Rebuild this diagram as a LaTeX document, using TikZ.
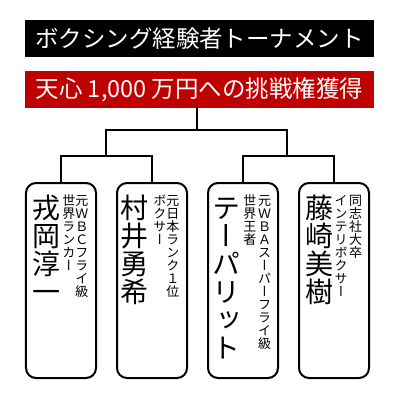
\documentclass[tikz,border=0pt]{standalone}
\usepackage{fontspec}
\setmainfont{Noto Sans CJK JP}
\newfontfamily\jpfont{Noto Sans CJK JP}
\newfontfamily\tatefont[RawFeature=+vert]{Noto Sans CJK JP}
\definecolor{rouge}{HTML}{BF0000}

%% Texte vertical : un caractere par case d'un cadratin.
\makeatletter
\def\tate@loop#1{\ifx#1\tate@end\else
  \hbox to 1em{\vrule height .88em depth .12em width 0pt\hss#1\hss}%
  \expandafter\tate@loop\fi}
\newcommand\tate[1]{\vbox{\offinterlineskip\tatefont\tate@loop#1\tate@end}}
\makeatother

\begin{document}
\begin{tikzpicture}[x=.25mm, y=-.25mm, line cap=round,
  bande/.style={minimum width=87.25mm, minimum height=9.25mm, inner sep=0pt,
    text=white, font=\jpfont\fontsize{16.7}{20}\selectfont},
  boite/.style={draw, line width=.5mm, rounded corners=2.5mm,
    minimum width=17.5mm, minimum height=48.75mm},
  trait/.style={line width=.5mm},
  nom/.style={anchor=north, inner sep=0pt, font=\fontsize{19.9}{24}\selectfont},
  note/.style={anchor=north, inner sep=0pt, font=\fontsize{9.25}{11}\selectfont}]

\useasboundingbox (0,0) rectangle (400,400);

%% Titre et enjeu.

\node[bande, fill=black] (titre) at (199.5,38.5) {ボクシング経験者トーナメント};
\node[bande, fill=rouge] (prix) at (199.5,89.5) {天心 1,000 万円への挑戦権獲得};

%% Les quatre cases.

\node[boite] (e1) at (61,280.5)  {};
\node[boite] (e2) at (152,280.5) {};
\node[boite] (e3) at (243,280.5) {};
\node[boite] (e4) at (334,280.5) {};

\node[nom]  (n1) at (46.5,194) {\tate{戎岡淳一}};
\node[note] (a1) at (82,194)   {\tate{元ＷＢＣフライ級}};
\node[note] (b1) at (69,194)   {\tate{世界ランカー}};

\node[nom]  (n2) at (134.5,194) {\tate{村井勇希}};
\node[note] (a2) at (173,194)   {\tate{元日本ランク１位}};
\node[note] (b2) at (160,194)   {\tate{ボクサー}};

\node[nom]  (n3) at (226,194)   {\tate{テーパリット}};
\node[note] (a3) at (264.5,194) {\tate{元ＷＢＡスーパーフライ級}};
\node[note] (b3) at (250,194)   {\tate{世界王者}};

\node[nom]  (n4) at (319,194)   {\tate{藤崎美樹}};
\node[note] (a4) at (355.5,194) {\tate{同志社大卒}};
\node[note] (b4) at (341,194)   {\tate{インテリボクサー}};

%% Le tableau.

\coordinate (fin)  at (197,130);
\coordinate (demi1) at (106,156);
\coordinate (demi2) at (287,156);

\draw[trait] (prix.south -| fin) -- (fin);
\draw[trait] (demi1) |- (fin) -| (demi2);
\draw[trait] (e1.north) |- (demi1) -| (e2.north);
\draw[trait] (e3.north) |- (demi2) -| (e4.north);

\end{tikzpicture}
\end{document}
